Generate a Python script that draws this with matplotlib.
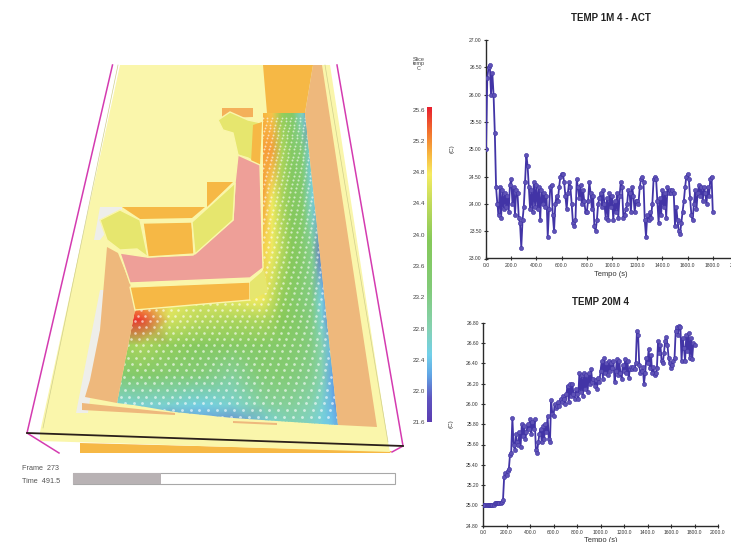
import numpy as np
import matplotlib
matplotlib.use('Agg')
import matplotlib.pyplot as plt
from matplotlib.colors import LinearSegmentedColormap
from matplotlib.patches import Polygon, Rectangle

plt.rcParams['font.family'] = ['Liberation Sans', 'DejaVu Sans']

W, H = 731, 542

# series, one row = 100 s
temp_1m = [
    25.00, 26.30, 26.50, 26.55, 26.00, 26.40, 26.00, 25.30, 24.30, 24.00,
    23.80, 24.30, 23.75, 24.25, 23.90, 24.20, 23.95, 24.15, 23.85, 24.35,
    24.45, 24.00, 24.30, 23.80, 24.25, 24.20, 23.75, 23.65, 23.20, 23.70,
    23.95, 24.40, 24.90, 24.70, 24.30, 23.90, 24.25, 23.85, 24.40, 23.95,
    24.35, 23.90, 24.30, 23.70, 24.25, 24.00, 24.20, 23.95, 24.15, 23.40,
    23.90, 24.30, 24.35, 23.80, 23.50, 24.00, 24.15, 24.05, 24.30, 24.50,
    24.55, 24.55, 24.40, 24.15, 23.90, 24.20, 24.40, 24.30, 24.00, 23.65,
    23.60, 23.70, 24.45, 24.30, 24.10, 24.35, 24.00, 24.25, 24.05, 23.85,
    23.85, 24.05, 24.40, 24.20, 23.90, 24.15, 23.60, 23.50, 23.70, 24.00,
    24.10, 24.20, 23.95, 24.25, 24.00, 23.75, 24.10, 23.70, 24.20, 23.95,
    24.15, 23.70, 24.05, 23.85, 24.20, 23.75, 24.15, 24.40, 24.30, 23.75,
    23.80, 23.90, 24.00, 24.25, 24.20, 23.85, 24.30, 24.15, 23.85, 24.05,
    24.05, 24.00, 24.30, 24.45, 24.50, 24.40, 23.70, 23.40, 23.80, 23.70,
    23.85, 23.75, 24.00, 24.45, 24.50, 24.45, 24.05, 23.65, 24.10, 23.80,
    24.25, 23.95, 24.20, 23.75, 24.30, 24.20, 24.25, 24.20, 24.25, 24.20,
    23.60, 23.95, 23.70, 23.50, 23.45, 23.65, 23.85, 24.05, 24.30, 24.50,
    24.55, 24.45, 24.10, 23.80, 23.70, 24.00, 24.25, 23.90, 24.20, 24.35,
    24.15, 24.30, 24.05, 24.30, 24.20, 24.00, 24.30, 24.15, 24.45, 24.50,
    23.85,
]
temp_20m = [
    25.00, 25.00, 25.00, 25.00, 25.00, 25.00, 25.00, 25.00, 25.00, 25.00,
    25.02, 25.02, 25.02, 25.02, 25.02, 25.02, 25.03, 25.05, 25.28, 25.32,
    25.30, 25.34, 25.36, 25.50, 25.52, 25.86, 25.60, 25.55, 25.70, 25.62,
    25.60, 25.72, 25.58, 25.80, 25.68, 25.78, 25.65, 25.72, 25.80, 25.75,
    25.85, 25.70, 25.82, 25.75, 25.85, 25.55, 25.52, 25.62, 25.70, 25.75,
    25.62, 25.78, 25.65, 25.80, 25.72, 25.88, 25.65, 25.62, 26.04, 25.90,
    25.88, 26.00, 25.96, 25.98, 26.02, 25.98, 26.05, 26.02, 26.08, 26.05,
    26.00, 26.10, 26.18, 26.02, 26.20, 26.08, 26.20, 26.10, 26.05, 26.15,
    26.10, 26.05, 26.30, 26.12, 26.28, 26.08, 26.30, 26.15, 26.28, 26.12,
    26.30, 26.20, 26.34, 26.22, 26.25, 26.18, 26.24, 26.15, 26.26, 26.22,
    26.32, 26.42, 26.25, 26.45, 26.30, 26.40, 26.28, 26.42, 26.32, 26.40,
    26.35, 26.42, 26.22, 26.32, 26.44, 26.28, 26.42, 26.30, 26.25, 26.38,
    26.32, 26.44, 26.30, 26.42, 26.26, 26.34, 26.36, 26.34, 26.36, 26.34,
    26.40, 26.72, 26.68, 26.38, 26.30, 26.32, 26.36, 26.20, 26.30, 26.45,
    26.40, 26.54, 26.35, 26.48, 26.30, 26.36, 26.28, 26.30, 26.35, 26.62,
    26.50, 26.58, 26.42, 26.40, 26.50, 26.62, 26.66, 26.58, 26.45, 26.40,
    26.35, 26.38, 26.42, 26.45, 26.72, 26.76, 26.68, 26.77, 26.76, 26.42,
    26.65, 26.55, 26.42, 26.68, 26.52, 26.70, 26.45, 26.65, 26.44, 26.60,
    26.58,
]
sample_step = 10.0

x_ticks = [0, 200, 400, 600, 800, 1000, 1200, 1400, 1600, 1800, 2000]
y_ticks_1m = [23.0, 23.5, 24.0, 24.5, 25.0, 25.5, 26.0, 26.5, 27.0]
y_ticks_20m = [24.8, 25.0, 25.2, 25.4, 25.6, 25.8, 26.0, 26.2, 26.4, 26.6, 26.8]

# slice colour scale
scale_labels = [25.6, 25.2, 24.8, 24.4, 24.0, 23.6, 23.2, 22.8, 22.4, 22.0, 21.6]
scale_stops = [21.6, 21.9, 22.2, 22.45, 22.8, 23.3, 23.9, 24.4, 24.75, 25.0, 25.3, 25.6]
scale_colors = ['#5b3db2', '#5f55c0', '#62a8e6', '#72d0ea', '#86d2b0', '#82cb78',
                '#86c95a', '#c4dc5c', '#f6ec62', '#f8b840', '#f2702e', '#e8202e']

# temperature field of the room floor, read roughly at these pixel positions
field_x = [112, 140, 170, 200, 232, 262, 272, 282, 292, 302, 312, 322, 332, 345]
field_y = [108, 150, 200, 250, 300, 320, 345, 375, 405, 430]
field_t = [
    [24.6, 24.6, 24.6, 24.6, 24.9, 25.0, 24.9, 24.0, 23.6, 22.6, 21.8, 21.8, 21.8, 21.8],
    [24.6, 24.6, 24.6, 24.6, 24.9, 25.1, 25.1, 24.2, 23.7, 23.4, 22.4, 22.4, 22.4, 22.4],
    [24.6, 24.6, 24.6, 24.6, 24.9, 25.1, 24.7, 24.2, 23.8, 23.6, 22.6, 22.3, 22.3, 22.3],
    [24.6, 24.6, 24.6, 24.6, 24.8, 24.9, 24.7, 24.3, 23.9, 23.6, 23.1, 22.0, 21.9, 21.9],
    [25.0, 25.0, 24.7, 24.5, 24.6, 24.7, 24.4, 24.0, 23.7, 23.4, 23.2, 22.5, 21.9, 21.8],
    [25.6, 25.5, 24.5, 24.3, 24.2, 24.2, 24.1, 23.9, 23.7, 23.5, 23.2, 22.6, 22.0, 21.9],
    [24.0, 24.2, 24.0, 23.8, 23.7, 23.7, 23.6, 23.6, 23.5, 23.4, 23.2, 22.8, 22.3, 22.0],
    [23.4, 23.6, 23.4, 23.3, 23.0, 23.4, 23.4, 23.4, 23.3, 23.2, 23.1, 22.8, 22.2, 21.9],
    [22.6, 22.6, 22.6, 22.5, 22.6, 22.9, 23.0, 23.0, 23.0, 22.9, 22.8, 22.6, 22.3, 21.9],
    [22.3, 22.2, 22.0, 22.1, 22.0, 22.3, 22.5, 22.6, 22.7, 22.7, 22.6, 22.5, 22.4, 22.3],
]

FLOOR = '#faf6ab'
ORANGE = '#f6b845'
TAN = '#eeb87c'
LIME = '#e6e66e'
PINK = '#ee9f98'
GREY = '#eeeeea'
MAGENTA = '#d43bb0'


def px_axes(fig, left, right, top, bottom):
    return fig.add_axes([left / W, 1 - bottom / H, (right - left) / W, (bottom - top) / H])


def fill(ax, pts, color, z=2, edge=None, lw=0):
    ax.add_patch(Polygon(pts, closed=True, facecolor=color, edgecolor=edge or 'none', linewidth=lw, zorder=z))


def temp_chart(ax, values, y_ticks, y_lim, title, title_xy, xlabel_xy, clab_xy):
    t = np.arange(len(values)) * sample_step
    ax.plot(t, values, '-', color='#4234a6', linewidth=1.3, marker='o', markersize=3.0,
            markerfacecolor='#5f52b6', markeredgecolor='#3f33a4', markeredgewidth=0.4, zorder=3)
    ax.set_xlim(0, 2000)
    ax.set_ylim(*y_lim)
    ax.set_xticks(x_ticks)
    ax.set_xticklabels([f'{v:.1f}' for v in x_ticks])
    ax.set_yticks(y_ticks)
    ax.set_yticklabels([f'{v:.2f}' for v in y_ticks])
    ax.tick_params(direction='inout', length=3, width=0.8, labelsize=3.6, pad=1.5, colors='#333333')
    ax.patch.set_alpha(0)
    for side in ['top', 'right']:
        ax.spines[side].set_visible(False)
    for side in ['left', 'bottom']:
        ax.spines[side].set_linewidth(1.0)
        ax.spines[side].set_color('#2a2a2a')
    fig.text(title_xy[0] / W, 1 - title_xy[1] / H, title, fontsize=7, fontweight='bold',
             ha='center', va='center', color='#222222')
    fig.text(xlabel_xy[0] / W, 1 - xlabel_xy[1] / H, 'Tempo (s)', fontsize=5.4, ha='center', va='center', color='#333333')
    fig.text(clab_xy[0] / W, 1 - clab_xy[1] / H, '(C)', fontsize=4.5, rotation=90, ha='center', va='center', color='#333333')


fig = plt.figure(figsize=(W / 100, H / 100), dpi=100, facecolor='white')

# left part: 3D view of the room, everything in image pixels
scene = fig.add_axes([0, 0, 1, 1])
scene.set_xlim(0, W)
scene.set_ylim(H, 0)
scene.axis('off')

fill(scene, [(80, 443), (392, 451), (390, 453), (80, 453)], ORANGE, 1)
fill(scene, [(120, 65), (330, 65), (388, 442), (390, 452), (40, 441), (40, 432)], FLOOR, 1)
scene.plot([118, 43], [65, 428], color='#d0cf8c', linewidth=0.5, zorder=1.5)
scene.plot([325, 388], [65, 442], color='#d0cf8c', linewidth=0.5, zorder=1.5)

# heat map on the open floor, clipped to its outline
cmap = LinearSegmentedColormap.from_list(
    'slice', [((v - 21.6) / 4.0, c) for v, c in zip(scale_stops, scale_colors)])
mesh = scene.pcolormesh(field_x, field_y, np.array(field_t), shading='gouraud', cmap=cmap,
                        vmin=21.6, vmax=25.6, zorder=2)
heat_outline = [(263, 113), (305, 113), (338, 425), (277, 421), (233, 418), (175, 412), (134, 405),
                (117, 403), (135, 310), (250, 300), (263, 270)]
clip = Polygon(heat_outline, closed=True, transform=scene.transData, facecolor='none', edgecolor='none')
scene.add_patch(clip)
mesh.set_clip_path(clip)

# white vent dots over the floor, spacing grows towards the viewer
rows = []
y = 118.0
while y < 424:
    rows.append(y)
    y += 3.2 + 4.0 * (y - 110) / 320
for i, y in enumerate(rows):
    s = 4.6 + 4.4 * (y - 110) / 320
    xs = np.arange(112 + (i % 2) * s / 2, 345, s)
    dots = scene.scatter(xs, np.full_like(xs, y), s=1.6 + 2.8 * (y - 110) / 320, color='white',
                         alpha=0.62, linewidths=0, zorder=3)
    dots.set_clip_path(clip)

# walls and raised parts
fill(scene, [(263, 65), (313, 65), (305, 113), (267, 113)], ORANGE, 4)
fill(scene, [(313, 65), (322, 65), (377, 427), (338, 425), (305, 113)], TAN, 4)
fill(scene, [(100, 207), (122, 207), (122, 212), (100, 240), (94, 240)], GREY, 4)
fill(scene, [(100, 290), (106, 290), (88, 413), (76, 413)], GREY, 4)
fill(scene, [(107, 247), (118, 253), (130, 283), (135, 310), (117, 403), (85, 397), (90, 380), (100, 330)], TAN, 5)
fill(scene, [(82, 403), (175, 413), (175, 415), (82, 410)], TAN, 5)
fill(scene, [(233, 421), (277, 423), (277, 425), (233, 423)], TAN, 5)

fill(scene, [(222, 108), (253, 108), (253, 117), (222, 118)], '#f4b05a', 5)
fill(scene, [(207, 182), (233, 182), (207, 207)], ORANGE, 5)
fill(scene, [(122, 207), (205, 207), (192, 218), (140, 219)], ORANGE, 5)
fill(scene, [(218, 120), (230, 112), (248, 120), (262, 123), (260, 165), (248, 158), (238, 155), (233, 133), (223, 130)],
     LIME, 6, FLOOR, 1)
fill(scene, [(253, 125), (262, 122), (260, 165), (251, 163)], ORANGE, 6)
fill(scene, [(238, 155), (260, 165), (263, 268), (250, 278), (130, 283), (120, 253), (147, 257),
             (193, 255), (233, 220), (235, 183)], PINK, 6, FLOOR, 1)
fill(scene, [(100, 220), (120, 210), (140, 220), (148, 257), (137, 249), (120, 250), (107, 240)], LIME, 7, FLOOR, 1)
fill(scene, [(143, 223), (192, 222), (194, 254), (148, 257)], ORANGE, 7, FLOOR, 1)
fill(scene, [(192, 222), (235, 183), (233, 220), (195, 254)], LIME, 7, FLOOR, 1)
fill(scene, [(130, 287), (250, 282), (250, 300), (135, 310)], ORANGE, 7, FLOOR, 1)
fill(scene, [(250, 282), (264, 270), (268, 292), (250, 300)], LIME, 7)

# bounding box of the slice
scene.plot([112.5, 27, 59], [65, 433, 453], color=MAGENTA, linewidth=1.1, zorder=8)
scene.plot([337, 403, 392], [65, 446, 452], color=MAGENTA, linewidth=1.1, zorder=8)
scene.plot([27, 403], [433, 446], color='#2a1f1a', linewidth=1.3, zorder=9)

# colour scale
bar = scene.imshow(np.linspace(25.6, 21.6, 256).reshape(-1, 1), extent=(427, 431.5, 422, 107), cmap=cmap,
                   vmin=21.6, vmax=25.6, aspect='auto', zorder=4)
scene.set_xlim(0, W)
scene.set_ylim(H, 0)
for i, v in enumerate(scale_labels):
    scene.text(425, 110 + i * 31.3, f'{v:.1f}', fontsize=4.6, ha='right', va='center', color='#444444')
scene.text(419, 64, 'Slice\ntemp\nC', fontsize=4, ha='center', va='center', color='#444444', linespacing=0.9)

# frame counter and progress bar
scene.text(22, 469, 'Frame  273', fontsize=5.2, ha='left', va='center', color='#555555')
scene.text(22, 481.5, 'Time  491.5', fontsize=5.2, ha='left', va='center', color='#555555')
scene.add_patch(Rectangle((73, 473), 322, 11, facecolor='white', edgecolor='#a8a8a8', linewidth=0.8, zorder=2))
scene.add_patch(Rectangle((73, 473), 88, 11, facecolor='#b8b2b4', edgecolor='none', zorder=3))

# right part: the two temperature charts
ax1 = px_axes(fig, 486, 738, 40, 258.5)
temp_chart(ax1, temp_1m, y_ticks_1m, (23.0, 27.0), 'TEMP 1M 4 - ACT', (611, 18), (611, 274), (452, 149))
ax2 = px_axes(fig, 483, 718, 322.7, 525.7)
temp_chart(ax2, temp_20m, y_ticks_20m, (24.8, 26.8), 'TEMP 20M 4', (601, 302), (601, 540), (451, 424))

plt.savefig('out.png', dpi=100)
